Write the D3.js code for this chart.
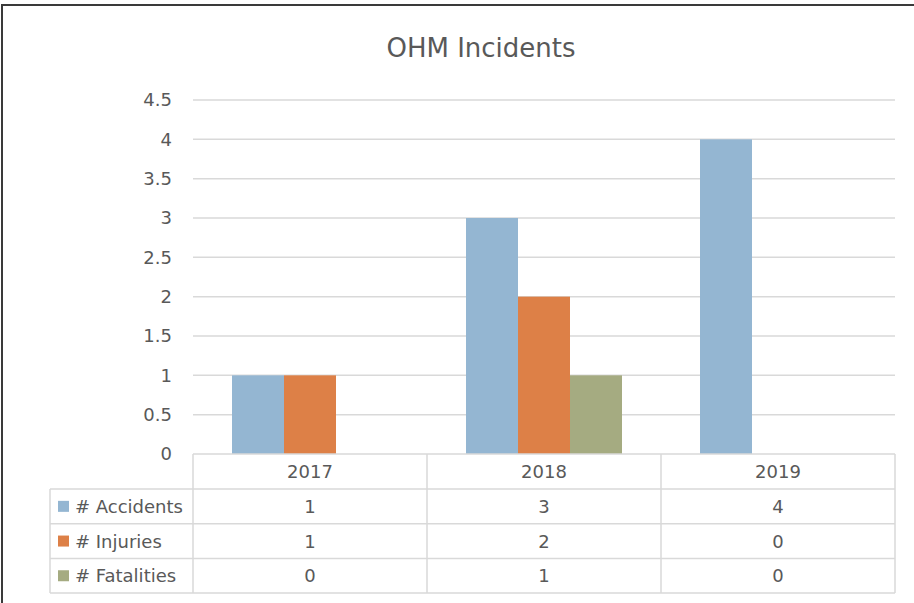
<!DOCTYPE html>
<html>
<head>
<meta charset="utf-8">
<script src="https://cdn.jsdelivr.net/npm/d3@7"></script>
<style>
body{margin:0;background:#fff;}
text{font-family:'DejaVu Sans',sans-serif;fill:#595959;}
</style>
</head>
<body>
<div id="chart"></div>
<script>
// data
const years = ['2017','2018','2019'];
const seriesNames = ['# Accidents','# Injuries','# Fatalities'];
const accidents = [1,3,4];
const injuries = [1,2,0];
const fatalities = [0,1,0];
const yTicks = [0,0.5,1,1.5,2,2.5,3,3.5,4,4.5];
const colors = ['#94B6D2','#DD8047','#A5AB81'];

const seriesValues = [accidents,injuries,fatalities];

const W = 914, H = 603;
const plot = {left:193,right:895,top:100,bottom:454};
const tableLeft = 50;
const headerH = 35, rowH = 34.7;
const fontSize = '18px';

const svg = d3.select('#chart')
.append('svg')
.attr('width',W)
.attr('height',H);

// outer border
svg.append('rect')
.attr('x',2)
.attr('y',5)
.attr('width',W+10)
.attr('height',H+10)
.attr('fill','none')
.attr('stroke','#3a3a3a')
.attr('stroke-width',2);

// scales
const x0 = d3.scaleBand()
.domain(years)
.range([plot.left,plot.right])
.paddingInner(0)
.paddingOuter(0);
const x1 = d3.scaleBand()
.domain(seriesNames)
.range([0,x0.bandwidth()])
.paddingInner(0)
.paddingOuter(0.75);
const y = d3.scaleLinear()
.domain([0,4.5])
.range([plot.bottom,plot.top]);

// horizontal gridlines
svg.selectAll('.ygrid')
.data(yTicks.slice(1))
.join('line')
.attr('class','ygrid')
.attr('x1',plot.left)
.attr('x2',plot.right)
.attr('y1',d => y(d))
.attr('y2',d => y(d))
.attr('stroke','#D9D9D9')
.attr('stroke-width',1.5);

// y axis labels
svg.append('g')
.attr('transform',`translate(${plot.left},0)`)
.style('font-size',fontSize)
.call(d3.axisLeft(y)
.tickValues(yTicks)
.tickFormat(d => d)
.tickSize(0)
.tickPadding(21))
.call(g => g.select('.domain').remove())
.selectAll('.tick text')
.style('fill','#595959')
.style('font-family',"'DejaVu Sans',sans-serif");

// bars
const bars = [];
years.forEach((yr,i) => {
  seriesNames.forEach((s,j) => {
    bars.push({year:yr,series:s,value:seriesValues[j][i],color:colors[j]});
  });
});
svg.selectAll('.bar')
.data(bars.filter(d => d.value > 0))
.join('rect')
.attr('class','bar')
.attr('x',d => x0(d.year) + x1(d.series))
.attr('y',d => y(d.value))
.attr('width',x1.bandwidth())
.attr('height',d => y(0) - y(d.value))
.attr('fill',d => d.color);

// title
svg.append('text')
.attr('x',481)
.attr('y',57)
.attr('text-anchor','middle')
.style('font-size','26px')
.text('OHM Incidents');

// data table
const tableBottom = plot.bottom + headerH + rowH*3;
const grid = svg.append('g')
.attr('stroke','#D9D9D9')
.attr('stroke-width',1.5);

grid.append('line')
.attr('x1',plot.left).attr('x2',plot.right)
.attr('y1',plot.bottom).attr('y2',plot.bottom);
d3.range(4).forEach(r => {
  const yy = plot.bottom + headerH + r*rowH;
  grid.append('line')
  .attr('x1',tableLeft).attr('x2',plot.right)
  .attr('y1',yy).attr('y2',yy);
});
grid.append('line')
.attr('x1',tableLeft).attr('x2',tableLeft)
.attr('y1',plot.bottom + headerH).attr('y2',tableBottom);
years.concat(['end']).forEach((yr,i) => {
  const xx = i < years.length ? x0(yr) : plot.right;
  grid.append('line')
  .attr('x1',xx).attr('x2',xx)
  .attr('y1',plot.bottom).attr('y2',tableBottom);
});

// header years
svg.selectAll('.yearlbl')
.data(years)
.join('text')
.attr('class','yearlbl')
.attr('x',d => x0(d) + x0.bandwidth()/2)
.attr('y',plot.bottom + headerH/2)
.attr('dy','0.36em')
.attr('text-anchor','middle')
.style('font-size',fontSize)
.text(d => d);

// rows
seriesNames.forEach((s,j) => {
  const cy = plot.bottom + headerH + j*rowH + rowH/2;
  svg.append('rect')
  .attr('x',58)
  .attr('y',cy - 5.5)
  .attr('width',11)
  .attr('height',11)
  .attr('fill',colors[j]);
  svg.append('text')
  .attr('x',75)
  .attr('y',cy)
  .attr('dy','0.36em')
  .style('font-size',fontSize)
  .text(s);
  years.forEach((yr,i) => {
    svg.append('text')
    .attr('x',x0(yr) + x0.bandwidth()/2)
    .attr('y',cy)
    .attr('dy','0.36em')
    .attr('text-anchor','middle')
    .style('font-size',fontSize)
    .text(seriesValues[j][i]);
  });
});
</script>
</body>
</html>
